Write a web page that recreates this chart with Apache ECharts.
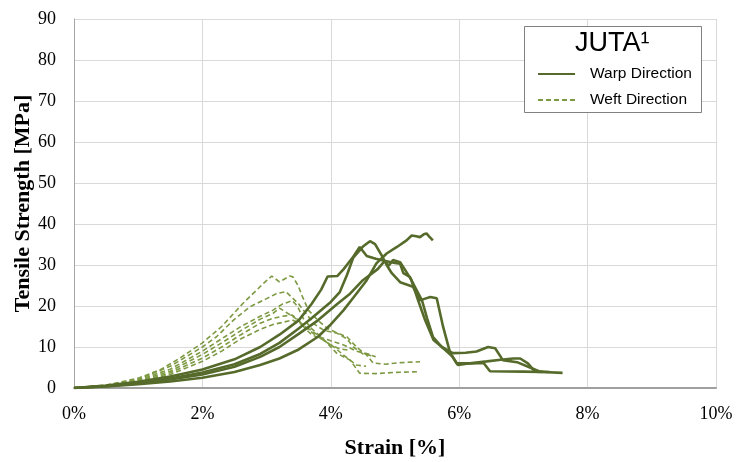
<!DOCTYPE html>
<html>
<head>
<meta charset="utf-8">
<script src="https://cdn.jsdelivr.net/npm/echarts@6/dist/echarts.min.js"></script>
<style>
  html, body { margin: 0; padding: 0; background: #fff; }
  #chart { width: 736px; height: 462px; }
</style>
</head>
<body>
<div id="chart"></div>
<script>
// Tensile tests on jute fabric: strain [%] vs. tensile strength [MPa]
const xTicks = [0, 2, 4, 6, 8, 10];
const yTicks = [0, 10, 20, 30, 40, 50, 60, 70, 80, 90];

// Warp direction specimens: [strain %, stress MPa]
const warp1 = [[0,0],[0.5,0.6],[1,1.5],[1.5,2.8],[2,4.5],[2.5,7.0],[2.9,10.0],[3.2,13],[3.5,16.5],[3.7,20.5],[3.85,24],[3.95,27.2],[4.1,27.3],[4.2,29],[4.35,32],[4.45,34.4],[4.56,32.2],[4.7,31.5],[4.85,31],[5.0,30.5],[5.08,30.3],[5.13,28],[5.23,27.1],[5.31,24.7],[5.42,21.4],[5.5,17],[5.59,12.5],[5.73,10],[5.9,7.6],[5.98,5.6],[6.2,6.1],[6.43,6.5],[6.65,6.9],[6.84,7.2],[6.95,7.2],[7.07,6],[7.18,4.0],[7.3,3.9]];
const warp2 = [[0,0],[0.5,0.5],[1,1.2],[1.5,2.3],[2,3.8],[2.5,5.8],[2.9,8.3],[3.2,11],[3.5,14.5],[3.7,17],[4.0,21],[4.14,23.4],[4.25,27.5],[4.35,31.8],[4.5,34.5],[4.61,35.8],[4.69,35.1],[4.79,32.4],[4.87,30],[4.95,28],[5.08,25.8],[5.28,24.7],[5.39,21.4],[5.47,21.8],[5.55,22.2],[5.65,21.9],[5.75,14.9],[5.86,8.5],[5.96,6],[6.2,6.0],[6.38,6.1],[6.48,4.1],[7.0,4.0],[7.3,3.9],[7.61,3.7]];
const warp3 = [[0,0],[0.5,0.45],[1,1.1],[1.5,2.1],[2,3.3],[2.5,5.2],[2.9,7.6],[3.2,10],[3.5,13.2],[3.8,16.5],[4.1,20.5],[4.3,23],[4.5,26.3],[4.73,29],[4.84,31],[4.9,29.8],[4.97,31.2],[5.08,30.7],[5.15,29],[5.25,26.5],[5.36,21.4],[5.47,16.5],[5.6,11.7],[5.73,10],[5.9,8.5],[6.1,8.6],[6.27,8.9],[6.45,10],[6.56,9.7],[6.68,6.8],[6.9,6.3],[7.13,4.8],[7.26,4.0],[7.41,3.9]];
const warp4 = [[0,0],[0.5,0.35],[1,0.9],[1.5,1.6],[2,2.5],[2.5,3.9],[2.9,5.6],[3.2,7.2],[3.5,9.4],[3.8,12.5],[4.0,15.5],[4.2,19],[4.35,22],[4.56,26.3],[4.71,30.4],[4.87,32.8],[5.03,34.4],[5.18,36],[5.26,37.2],[5.33,37],[5.39,36.8],[5.45,37.5],[5.49,37.7],[5.53,37],[5.59,36]];

// Weft direction specimens: [strain %, stress MPa]
const weft1 = [[0,0],[0.5,0.7],[1,2.4],[1.35,4.5],[1.65,7.3],[2.0,11],[2.3,15],[2.63,20.6],[2.95,25.5],[3.08,27.3],[3.2,25.9],[3.36,27.3],[3.41,27.1],[3.49,25],[3.55,22.6],[3.65,19],[3.8,16.5],[3.95,14.5],[4.1,13.4],[4.25,12.5],[4.4,10],[4.56,8],[4.66,6.1],[4.85,5.8],[5.1,6.2],[5.39,6.4]];
const weft2 = [[0,0],[0.5,0.6],[1,2.1],[1.5,5.3],[2.0,10],[2.22,12.5],[2.48,16.5],[2.74,19.8],[3.0,21.8],[3.15,23],[3.3,23.5],[3.4,22],[3.5,20.5],[3.62,18],[3.75,15.5],[3.9,14],[4.09,13.4],[4.25,12],[4.35,10],[4.5,8.3],[4.66,7.8]];
const weft3 = [[0,0],[0.5,0.55],[1,1.9],[1.5,4.6],[2.0,9],[2.3,12],[2.6,15],[2.9,17.5],[3.1,19],[3.25,20.5],[3.4,21.3],[3.48,20],[3.57,17],[3.7,14.5],[3.88,12],[4.09,8.5],[4.3,6.8],[4.45,3.6],[4.7,3.5],[5.0,3.8],[5.39,4.0]];
const weft4 = [[0,0],[0.5,0.5],[1,1.7],[1.5,4.1],[2.0,8.2],[2.3,11],[2.6,14],[2.9,16.8],[3.1,18.2],[3.2,19.5],[3.3,18.5],[3.45,17],[3.6,15],[3.75,13],[3.9,11.5],[4.05,10],[4.2,8],[4.4,5.6],[4.55,5.3]];
const weft5 = [[0,0],[0.5,0.45],[1,1.5],[1.5,3.7],[2.0,7.3],[2.3,10],[2.6,13],[2.9,15.8],[3.1,17],[3.25,17.5],[3.4,17.8],[3.5,16.5],[3.6,14.5],[3.7,13],[3.85,12],[4.0,10.5],[4.15,9.5],[4.3,9.2]];
const weft6 = [[0,0],[0.5,0.4],[1,1.3],[1.5,3.3],[2.0,6.5],[2.3,9],[2.6,12],[2.9,14.3],[3.1,15.5],[3.25,16],[3.4,16.6],[3.55,15.5],[3.7,14],[3.85,12.3],[4.0,11.5],[4.2,10.5],[4.4,9],[4.6,8.2],[4.7,7.6]];

const warpCurves = [warp1, warp2, warp3, warp4];
const weftCurves = [weft1, weft2, weft3, weft4, weft5, weft6];
const warpName = 'Warp Direction';
const weftName = 'Weft Direction';

const warpColor = '#566b2b';
const weftColor = '#7d9a43';

const series = [];
weftCurves.forEach(function (d) {
  series.push({
    name: weftName, type: 'line', data: d, showSymbol: false, symbol: 'none',
    lineStyle: { color: weftColor, width: 1.6, type: [5, 3] },
    itemStyle: { color: weftColor }, z: 2, animation: false
  });
});
warpCurves.forEach(function (d) {
  series.push({
    name: warpName, type: 'line', data: d, showSymbol: false, symbol: 'none',
    lineStyle: { color: warpColor, width: 2.6 },
    itemStyle: { color: warpColor }, z: 3, animation: false
  });
});

const serif = '"Liberation Serif", "Times New Roman", serif';
const sans = '"Liberation Sans", Arial, sans-serif';

const chart = echarts.init(document.getElementById('chart'), null, { renderer: 'canvas' });
chart.setOption({
  animation: false,
  backgroundColor: '#ffffff',
  grid: { left: 74, right: 20, top: 19, bottom: 74, containLabel: false, outerBoundsMode: 'none' },
  xAxis: {
    type: 'value', min: xTicks[0], max: xTicks[xTicks.length - 1], interval: 2,
    name: 'Strain [%]', nameLocation: 'middle', nameGap: 49,
    nameTextStyle: { fontFamily: serif, fontSize: 22, fontWeight: 'bold', color: '#000' },
    axisLine: { show: true, lineStyle: { color: '#a0a0a0', width: 2 } },
    axisTick: { show: false },
    axisLabel: { formatter: function (v) { return v + '%'; }, fontFamily: serif, fontSize: 18, color: '#000', margin: 17 },
    splitLine: { show: true, lineStyle: { color: '#d9d9d9', width: 1 } }
  },
  yAxis: {
    type: 'value', min: yTicks[0], max: yTicks[yTicks.length - 1], interval: 10,
    name: 'Tensile Strength [MPa]', nameLocation: 'middle', nameGap: 40, nameMoveOverlap: false,
    nameTextStyle: { fontFamily: serif, fontSize: 22, fontWeight: 'bold', color: '#000' },
    axisLine: { show: true, lineStyle: { color: '#a6a6a6', width: 1 } },
    axisTick: { show: false },
    axisLabel: { fontFamily: serif, fontSize: 18, color: '#000', margin: 18 },
    splitLine: { show: true, lineStyle: { color: '#d9d9d9', width: 1 } }
  },
  legend: {
    data: [warpName, weftName],
    orient: 'vertical', left: 532, top: 61,
    itemWidth: 37, itemHeight: 12, itemGap: 10,
    itemStyle: { opacity: 0 },
    textStyle: { fontFamily: sans, fontSize: 15.5, color: '#000', padding: [0, 0, 0, 10] },
    z: 20
  },
  graphic: [
    {
      type: 'rect', z: 10,
      shape: { x: 524.5, y: 26.5, width: 177, height: 86 },
      style: { fill: '#ffffff', stroke: '#808080', lineWidth: 1 }
    },
    {
      type: 'text', z: 11, left: 575, top: 30,
      style: { text: 'JUTA\u00B9', fontFamily: sans, fontSize: 27, fill: '#000' }
    }
  ],
  series: series
});
</script>
</body>
</html>
